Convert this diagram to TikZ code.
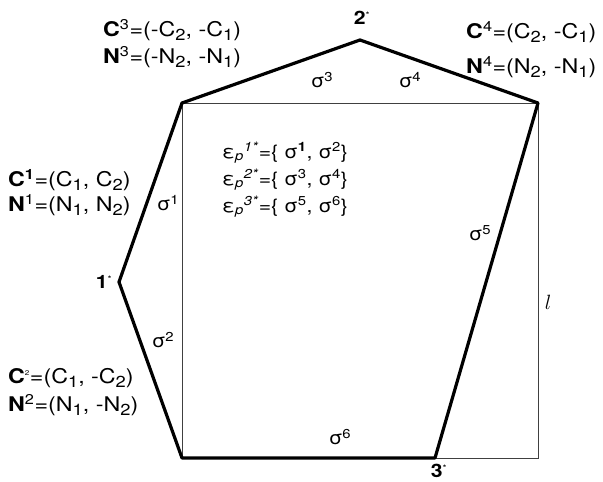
\documentclass[tikz,border=0pt]{standalone}
\usepackage{fontspec}
\setmainfont[FakeStretch=1.15]{TeX Gyre Heros}
\newcommand{\sig}[1]{σ\textsuperscript{#1}}
\newcommand{\sub}[1]{\raisebox{-0.4ex}{\fontsize{16}{16}\selectfont #1}}
\newcommand{\eps}[1]{ε\textsubscript{\textit{p}}\textsuperscript{\textit{#1}}}
\newcommand{\vstar}[1]{\textbf{#1}\textsuperscript{\small *}}

\begin{document}
\begin{tikzpicture}[x=1bp, y=-1bp,
  every node/.style={inner sep=0pt, font=\fontsize{18.5}{21}\selectfont},
  data/.style={anchor=west, font=\fontsize{20.3}{22}\selectfont},
  thin edge/.style={line width=0.9bp, black!75},
  thick edge/.style={line width=3.2bp, line join=round}]

\path[use as bounding box] (0,0) rectangle (603,482);

% Square
\coordinate (sqTL) at (182,103);
\coordinate (sqTR) at (538,103);
\coordinate (sqBR) at (538,458);
\coordinate (sqBL) at (182,458);

% Extra vertices
\coordinate (v1) at (119,282);
\coordinate (v2) at (360,40);
\coordinate (v3) at (435,458);

% Edges
\draw[thin edge] (sqTL) -- (sqTR) -- (sqBR) -- (sqBL) -- cycle;
\draw[thick edge] (sqBL) -- (v1) -- (sqTL) -- (v2) -- (sqTR) -- (v3) -- cycle;

% Vertex labels
\node (lbl1) at (104,282) {\vstar{1}};
\node (lbl2) at (362,18) {\vstar{2}};
\node (lbl3) at (439,471) {\vstar{3}};

% Edge labels
\node (s1) at (168,203) {\sig{1}};
\node (s2) at (163,340) {\sig{2}};
\node (s3) at (322,80) {\sig{3}};
\node (s4) at (410,80) {\sig{4}};
\node (s5) at (480,233) {\sig{5}};
\node (s6) at (340,437) {\sig{6}};
\node[font=\fontsize{22}{22}\selectfont] (ell) at (548,302) {$l$};

% Vertex data
\node[data] (c3) at (103,30) {\textbf{C}\textsuperscript{3}=(-C\sub{2}, -C\sub{1})};
\node[data] (n3) at (103,57) {\textbf{N}\textsuperscript{3}=(-N\sub{2}, -N\sub{1})};
\node[data] (c4) at (466,32) {\textbf{C}\textsuperscript{4}=(C\sub{2}, -C\sub{1})};
\node[data] (n4) at (466,67) {\textbf{N}\textsuperscript{4}=(N\sub{2}, -N\sub{1})};
\node[data] (c1) at (8,180) {\textbf{C}\textsuperscript{\textbf{1}}=(C\sub{1}, C\sub{2})};
\node[data] (n1) at (8,205) {\textbf{N}\textsuperscript{1}=(N\sub{1}, N\sub{2})};
\node[data] (c2) at (8,378) {\textbf{C}\textsuperscript{\scriptsize 2}=(C\sub{1}, -C\sub{2})};
\node[data] (n2) at (8,405) {\textbf{N}\textsuperscript{2}=(N\sub{1}, -N\sub{2})};

% Vertex sets
\node[anchor=west] (e1) at (222,153) {\eps{1*}=\{ σ\textsuperscript{\textbf{1}}, \sig{2}\}};
\node[anchor=west] (e2) at (222,180) {\eps{2*}=\{ \sig{3}, \sig{4}\}};
\node[anchor=west] (e3) at (222,207) {\eps{3*}=\{ \sig{5}, \sig{6}\}};
\end{tikzpicture}
\end{document}
